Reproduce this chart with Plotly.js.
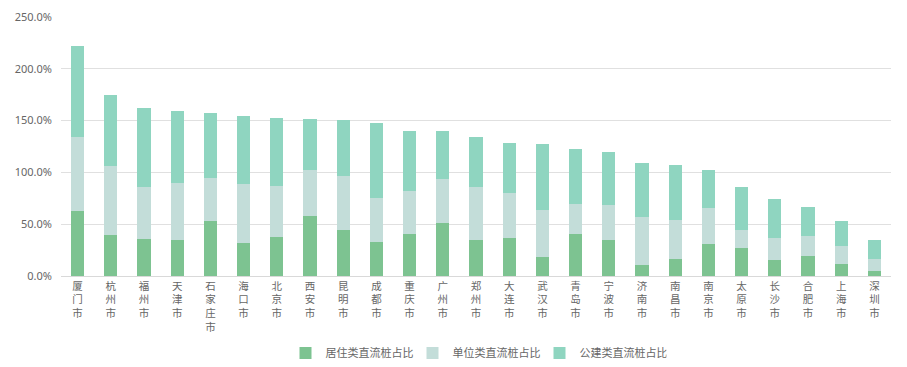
<!DOCTYPE html>
<html><head><meta charset="utf-8">
<script src="https://cdn.plot.ly/plotly-3.0.1.min.js"></script>
<style>html,body{margin:0;padding:0;background:#fff;}#c{width:907px;height:367px;}</style>
</head><body><div id="c"></div>
<script>
const cities = ["厦门市","杭州市","福州市","天津市","石家庄市","海口市","北京市","西安市","昆明市","成都市","重庆市","广州市","郑州市","大连市","武汉市","青岛市","宁波市","济南市","南昌市","南京市","太原市","长沙市","合肥市","上海市","深圳市"];
const residential = [62.7,39.3,35.7,34.7,52.8,31.9,37.6,57.6,44.4,32.8,40.3,51.2,34.7,36.4,18.7,40.5,34.7,10.3,16.4,30.6,27.4,15.2,19.0,11.3,4.8];
const unit = [71.3,66.7,50.3,54.8,42.2,56.9,49.7,45.1,51.8,42.2,41.7,42.8,50.9,44.1,45.4,29.0,33.8,46.4,37.4,34.7,16.7,21.5,19.6,18.0,12.0];
const publicB = [88.0,69.0,76.0,70.1,62.3,65.4,64.9,48.8,54.4,73.0,58.3,46.3,48.6,48.3,63.3,52.8,51.2,52.4,53.3,36.7,41.8,38.0,27.7,23.5,17.7];
const seriesNames = ["居住类直流桩占比","单位类直流桩占比","公建类直流桩占比"];
const yTicks = [0,50,100,150,200,250];

const tickText = cities.map(c => Array.from(c).join("<br>"));
const colors = ["#7dc391","#c3ddd9","#8fd5c0"];
const data = [residential, unit, publicB].map((v,i) => ({
  type: "bar", name: seriesNames[i], x: cities, y: v,
  marker: {color: colors[i]}, hoverinfo: "none"
}));
const layout = {
  width: 907, height: 367,
  margin: {l: 61, r: 16, t: 16.5, b: 91.3, autoexpand: false},
  barmode: "stack", bargap: 0.6,
  paper_bgcolor: "#fff", plot_bgcolor: "#fff",
  font: {family: "Noto Sans CJK SC, sans-serif", color: "#666666", size: 11},
  xaxis: {
    tickmode: "array", tickvals: cities, ticktext: tickText, tickangle: 0,
    showline: true, linecolor: "#d9d9d9", linewidth: 1, ticks: "",
    tickfont: {size: 10.5, color: "#666666"}, showgrid: false, fixedrange: true,
    automargin: false
  },
  yaxis: {
    range: [0, 250], tickmode: "array", tickvals: yTicks,
    ticktext: yTicks.map(v => v.toFixed(1) + "%"),
    showgrid: true, gridcolor: "#e0e0e0", zeroline: false, showline: false,
    tickfont: {size: 11, color: "#666666", family: "Noto Sans, sans-serif"},
    ticklabelstandoff: 8, fixedrange: true, automargin: false
  },
  showlegend: true,
  legend: {orientation: "h", x: 0.5, xanchor: "center", xref: "paper",
    yref: "container", y: 0.038, yanchor: "middle",
    font: {size: 11, color: "#666666"}, traceorder: "normal", itemwidth: 30,
    entrywidth: 82, entrywidthmode: "pixels"},
};
Plotly.newPlot("c", data, layout, {displayModeBar: false, staticPlot: true});
</script></body></html>
